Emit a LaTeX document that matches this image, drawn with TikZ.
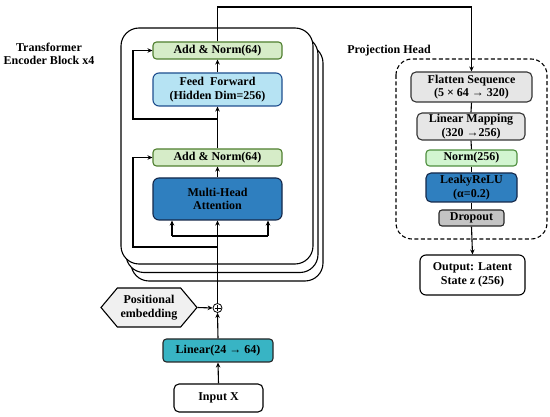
\documentclass[tikz,border=0pt]{standalone}
\usepackage{fontspec}
\setmainfont{Liberation Serif}
\usetikzlibrary{arrows.meta,shapes.symbols,calc}
\definecolor{angreen}{HTML}{D6ECC8}
\definecolor{angreenb}{HTML}{4F7F2F}
\definecolor{ffblue}{HTML}{B6E3F3}
\definecolor{ffblueb}{HTML}{1F4F8F}
\definecolor{mhablue}{HTML}{2F7FBF}
\definecolor{mhab}{HTML}{14284A}
\definecolor{linteal}{HTML}{38B4C4}
\definecolor{lgray}{HTML}{E6E6E6}
\definecolor{ngreen}{HTML}{D2F5D0}
\definecolor{ngreenb}{HTML}{4F8F3F}
\definecolor{dgray}{HTML}{C4C4C4}
\definecolor{pegray}{HTML}{F0F0F0}
\begin{document}
\begin{tikzpicture}[x=1pt,y=-1pt,
  font=\fontsize{12}{13.5}\selectfont\bfseries,
  box/.style={draw, line width=1.1pt, rounded corners=3.5pt, align=center, inner sep=0pt},
  arr/.style={line width=1.1pt, -{Stealth[length=5pt,width=4.5pt]}},
  ln/.style={line width=1.1pt},
  blk/.style={draw, line width=1.1pt, fill=white, rounded corners=18pt}]
\useasboundingbox (0,0) rectangle (550,417);
% stacked encoder blocks
\draw[blk] (131,45) rectangle (323,281);
\draw[blk] (126,36.5) rectangle (318,272.5);
\draw[blk] (121,28) rectangle (313,264);
\node[align=center] (tlabel) at (49,54) {Transformer\\Encoder Block x4};
% encoder nodes
\node[box, fill=angreen, draw=angreenb, minimum width=129pt, minimum height=17pt] (an2) at (217.5,50.5) {Add \& Norm(64)};
\node[box, fill=ffblue, draw=ffblueb, minimum width=129pt, minimum height=33pt, rounded corners=6pt] (ff) at (217.5,89.5) {Feed\enspace Forward\\(Hidden Dim=256)};
\node[box, fill=angreen, draw=angreenb, minimum width=129pt, minimum height=17pt] (an1) at (217.5,157.5) {Add \& Norm(64)};
\node[box, fill=mhablue, draw=mhab, minimum width=129pt, minimum height=42pt, rounded corners=6pt] (mha) at (217.5,199) {Multi-Head\\Attention};
% input side
\node[box, fill=white, draw=black, minimum width=89pt, minimum height=28pt, rounded corners=5pt] (inp) at (218.5,398) {Input X};
\node[box, fill=linteal, draw=black!85, minimum width=110pt, minimum height=23pt] (lin) at (218,350.5) {Linear(24 → 64)};
\node[draw, circle, line width=0.8pt, minimum size=9pt, inner sep=0pt, fill=white] (plus) at (217.5,308) {};
\draw[line width=0.6pt] ($(plus.center)+(-3,0)$) -- ($(plus.center)+(3,0)$) ($(plus.center)+(0,-3)$) -- ($(plus.center)+(0,3)$);
\node[signal, signal to=west and east, signal pointer angle=100, draw, line width=1.1pt, fill=pegray, align=center, minimum width=96pt, minimum height=39pt, inner sep=1pt] (pe) at (149,307.5) {Positional\\embedding};
% projection head
\node (phlabel) at (389,51) {Projection Head};
\draw[line width=1.1pt, dashed, dash pattern=on 4pt off 2.5pt, rounded corners=16pt] (396,59) rectangle (547,239);
\node[box, fill=lgray, draw=black!80, minimum width=121pt, minimum height=30pt, rounded corners=5pt] (flat) at (471.5,87) {Flatten Sequence\\(5 × 64 → 320)};
\node[box, fill=lgray, draw=black!80, minimum width=108pt, minimum height=27pt, rounded corners=5pt] (lmap) at (471,126.5) {Linear Mapping\\(320 →256)};
\node[box, fill=ngreen, draw=ngreenb, minimum width=91pt, minimum height=16pt] (norm) at (471.5,158) {Norm(256)};
\node[box, fill=mhablue, draw=mhab, minimum width=91pt, minimum height=29pt, rounded corners=5pt] (leaky) at (471.5,187.5) {LeakyReLU\\(α=0.2)};
\node[box, fill=dgray, draw=black!85, minimum width=65pt, minimum height=16pt, rounded corners=3pt] (drop) at (471.5,218) {Dropout};
\node[box, fill=white, draw=black, minimum width=105pt, minimum height=40pt, rounded corners=6pt] (out) at (472.5,275) {Output: Latent\\State z (256)};
% connectors: input side
\draw[arr] (inp.north) -- (lin.south);
\draw[arr] (lin.north) -- (plus.south);
\draw[arr] (pe.east) -- (plus.west);
\draw[arr] (plus.north) -- (mha.south);
% multi-head fan
\coordinate (fanl) at (172,236);
\coordinate (fanr) at (268,236);
\draw[ln] (fanl) -- (fanr);
\draw[arr] (fanl) -- (fanl |- mha.south);
\draw[arr] (fanr) -- (fanr |- mha.south);
% residuals
\coordinate (r1) at (217.5,247);
\coordinate (r1l) at (133,247);
\draw[arr] (r1) -- (r1l) -- (r1l |- an1.west) -- (an1.west);
\coordinate (r2) at (217.5,119);
\coordinate (r2l) at (133,119);
\draw[arr] (r2) -- (r2l) -- (r2l |- an2.west) -- (an2.west);
\draw[arr] (mha.north) -- (an1.south);
\draw[arr] (an1.north) -- (ff.south);
\draw[arr] (ff.north) -- (an2.south);
% to projection head
\coordinate (top1) at (217.5,7);
\coordinate (top2) at (flat.north |- top1);
\draw[arr] (an2.north) -- (top1) -- (top2) -- (flat.north);
\draw[ln] (flat.south) -- (lmap.north);
\draw[ln] (lmap.south) -- (norm.north);
\draw[ln] (norm.south) -- (leaky.north);
\draw[ln] (leaky.south) -- (drop.north);
\draw[arr] (drop.south) -- (out.north);
\end{tikzpicture}
\end{document}
